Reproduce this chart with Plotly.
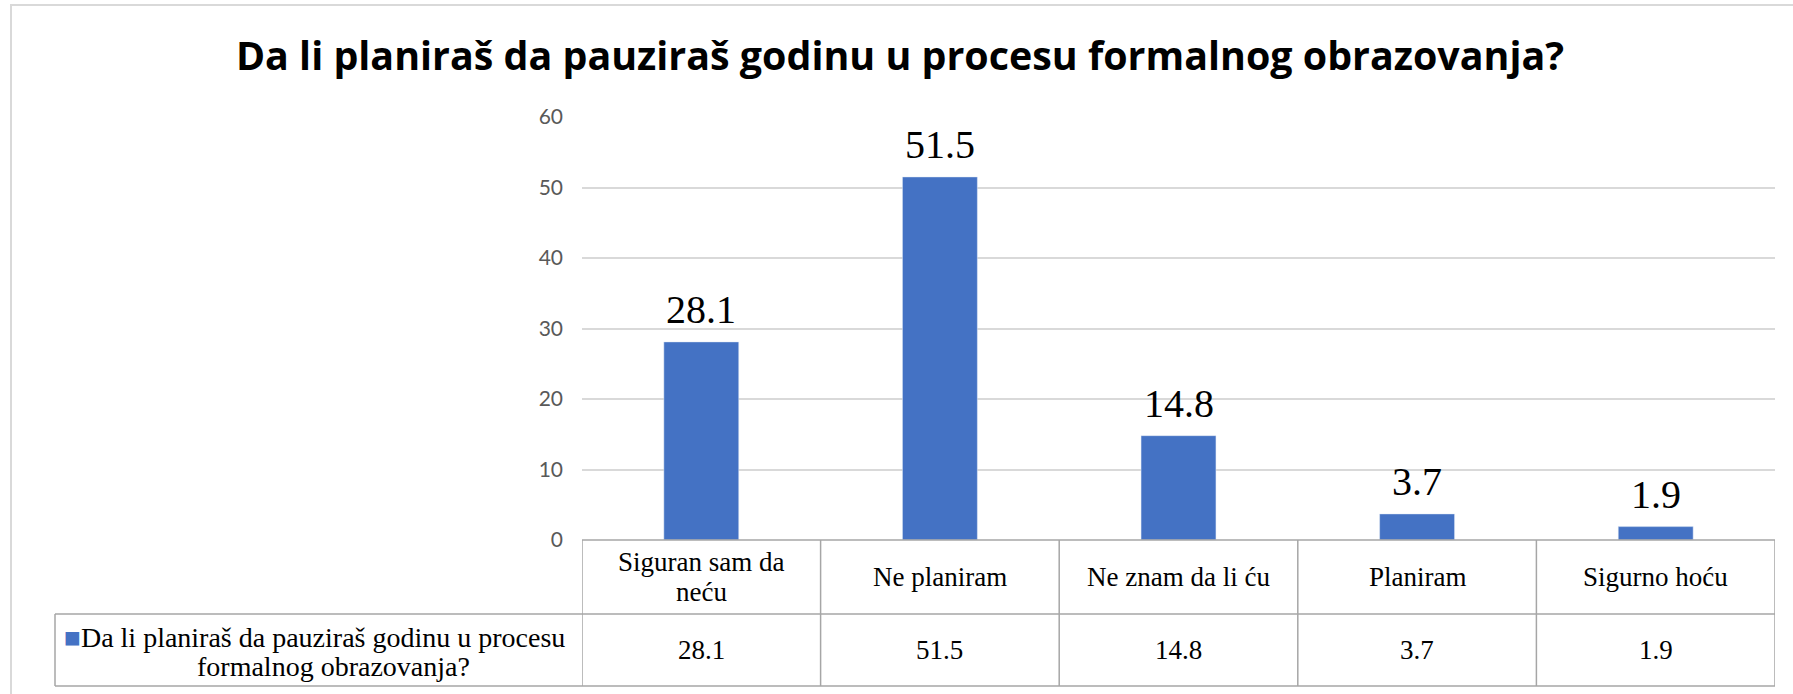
import plotly.graph_objects as go

title = "Da li planiraš da pauziraš godinu u procesu formalnog obrazovanja?"
series_name = "Da li planiraš da pauziraš godinu u procesu formalnog obrazovanja?"
series_label_lines = ["Da li planiraš da pauziraš godinu u procesu", "formalnog obrazovanja?"]
categories = ["Siguran sam da neću", "Ne planiram", "Ne znam da li ću", "Planiram", "Sigurno hoću"]
category_labels = ["Siguran sam da<br>neću", "Ne planiram", "Ne znam da li ću", "Planiram", "Sigurno hoću"]
values = [28.1, 51.5, 14.8, 3.7, 1.9]
y_ticks = [0, 10, 20, 30, 40, 50, 60]

BAR = "#4472C4"
GRID = "#D9D9D9"
TABLE = "#A6A6A6"
SERIF = "Liberation Serif, Times New Roman, serif"
SANS = "Open Sans, Lato, sans-serif"
TICKFONT = "Lato, Open Sans, sans-serif"

W, H = 1793, 694
L, R, T, B = 582, 18, 117, 154
PH = H - T - B
PW = W - L - R


def py(pix):
    return (H - B - pix) / PH


def px(pix):
    return (pix - L) / PW


fig = go.Figure()
fig.add_trace(go.Bar(x=categories, y=values, marker_color=BAR, name=series_name,
                     showlegend=False, hoverinfo="x+y"))

# data labels above bars
for c, v in zip(categories, values):
    fig.add_annotation(x=c, y=v, xref="x", yref="y", text=f"{v}", showarrow=False,
                       xanchor="center", yanchor="bottom", yshift=8,
                       font=dict(family=SERIF, size=40, color="#000000"))

shapes = []
# frame of the chart
shapes.append(dict(type="rect", xref="paper", yref="paper", x0=px(11), x1=px(1900), y0=py(800), y1=py(5),
                   line=dict(color=GRID, width=2), layer="below"))
# table lines
y_mid = py(614)
y_bot = py(686)
n = len(categories)
bounds = [i - 0.5 for i in range(n + 1)]
for b in bounds:
    shapes.append(dict(type="line", xref="x", yref="paper", x0=b, x1=b, y0=0, y1=y_bot,
                       line=dict(color=TABLE, width=1.5)))
shapes.append(dict(type="line", xref="paper", yref="paper", x0=px(55), x1=px(55), y0=y_mid, y1=y_bot,
                   line=dict(color=TABLE, width=1.5)))
shapes.append(dict(type="line", xref="paper", yref="paper", x0=px(55), x1=1, y0=y_mid, y1=y_mid,
                   line=dict(color=TABLE, width=1.5)))
shapes.append(dict(type="line", xref="paper", yref="paper", x0=px(55), x1=1, y0=y_bot, y1=y_bot,
                   line=dict(color=TABLE, width=1.5)))
shapes.append(dict(type="line", xref="paper", yref="paper", x0=0, x1=1, y0=0, y1=0,
                   line=dict(color=TABLE, width=1.5)))
fig.update_layout(shapes=shapes)

TFONT = dict(family=SERIF, size=27, color="#000000")
LINE_GAP = 30
# table text: category row and value row
for c, lab, v in zip(categories, category_labels, values):
    lines = lab.split("<br>")
    k = len(lines)
    for i, line in enumerate(lines):
        mid = 577 + (i - (k - 1) / 2) * LINE_GAP
        fig.add_annotation(x=c, y=py(mid), xref="x", yref="paper", text=line, showarrow=False,
                           xanchor="center", yanchor="middle", font=TFONT)
    fig.add_annotation(x=c, y=py(650), xref="x", yref="paper", text=f"{v}", showarrow=False,
                       xanchor="center", yanchor="middle", font=TFONT)

# series (legend) cell
fig.add_annotation(x=px(314), y=py(637), xref="paper", yref="paper",
                   text=f"<span style='color:{BAR}'>■</span>{series_label_lines[0]}",
                   showarrow=False, xanchor="center", yanchor="middle",
                   font=dict(family=SERIF, size=28, color="#000000"))
fig.add_annotation(x=px(333), y=py(666), xref="paper", yref="paper",
                   text=series_label_lines[1],
                   showarrow=False, xanchor="center", yanchor="middle",
                   font=dict(family=SERIF, size=28, color="#000000"))

fig.update_layout(
    width=W, height=H,
    margin=dict(l=L, r=R, t=T, b=B, pad=0),
    paper_bgcolor="white", plot_bgcolor="white",
    bargap=0.686,
    title=dict(text=f"<b>{title}</b>", x=900 / W, xref="container", xanchor="center",
               y=1 - 56 / H, yref="container", yanchor="middle",
               font=dict(family=SANS, size=39.4, color="#000000")),
    xaxis=dict(showticklabels=False, showgrid=False, zeroline=False, showline=False, ticks="",
               range=[-0.5, n - 0.5]),
    yaxis=dict(range=[0, 60], tickvals=y_ticks, showgrid=True, gridcolor=GRID, gridwidth=1.5,
               zeroline=False, showline=False, ticks="", ticklabelstandoff=18,
               tickfont=dict(family=TICKFONT, size=21, color="#595959")),
)

fig.write_html("out.html", config={"displayModeBar": False},
               post_script="document.body.style.margin='0';")
